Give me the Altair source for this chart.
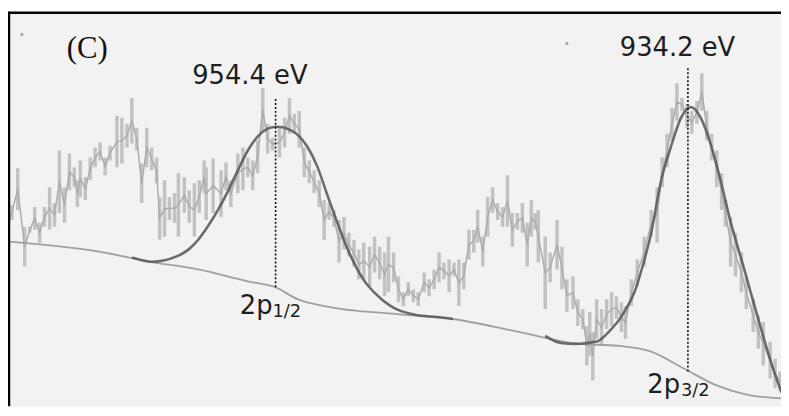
import altair as alt
import pandas as pd

# Raw spectrum: binding energy (eV) and the upper / lower ends of each noisy bar (a.u.)
energy = [
    967.46, 967.32, 967.03, 966.69, 966.44, 966.20, 965.96, 965.72, 965.47, 965.23,
    964.99, 964.74, 964.50, 964.26, 964.11, 963.97, 963.72, 963.48, 963.24, 963.00,
    962.75, 962.51, 962.17, 961.93, 961.68, 961.44, 961.20, 960.96, 960.71, 960.47,
    960.23, 960.08, 959.84, 959.60, 959.35, 959.16, 958.87, 958.63, 958.38, 958.14,
    957.90, 957.80, 957.46, 957.07, 956.83, 956.59, 956.25, 956.00, 955.76, 955.52,
    955.28, 955.03, 954.79, 954.55, 954.21, 953.96, 953.72, 953.48, 953.24, 952.99,
    952.75, 952.51, 952.26, 952.02, 951.78, 951.54, 951.29, 951.05, 950.81, 950.56,
    950.32, 950.08, 949.79, 949.55, 949.30, 949.06, 948.87, 948.62, 948.38, 948.14,
    947.90, 947.65, 947.41, 947.12, 946.88, 946.63, 946.39, 946.15, 945.90, 945.66,
    945.42, 945.18, 944.93, 944.69, 944.50, 944.25, 944.01, 943.77, 943.52, 943.28,
    943.04, 942.80, 942.55, 942.31, 942.07, 941.87, 941.68, 941.53, 941.19, 940.95,
    940.61, 940.37, 940.13, 939.83, 939.59, 939.35, 939.15, 939.01, 938.86, 938.67,
    938.43, 938.18, 937.94, 937.70, 937.46, 937.26, 936.97, 936.68, 936.34, 936.00,
    935.71, 935.46, 935.22, 934.98, 934.74, 934.49, 934.25, 934.01, 933.76, 933.52,
    933.28, 933.04, 932.79, 932.55, 932.36, 932.11, 931.87, 931.58, 931.34, 931.00,
    930.75, 930.51, 930.17, 929.93, 929.69,
]
hi = [
    203, 211, 248, 189, 189, 209, 193, 209, 229, 213,
    266, 229, 263, 249, 236, 256, 239, 259, 269, 274,
    259, 271, 301, 299, 293, 319, 289, 253, 289, 269,
    259, 219, 236, 219, 223, 243, 239, 226, 233, 236,
    256, 249, 258, 246, 254, 236, 263, 269, 259, 256,
    276, 329, 293, 279, 289, 299, 319, 303, 306, 269,
    256, 246, 236, 216, 213, 206, 196, 199, 183, 176,
    166, 173, 169, 179, 169, 163, 179, 163, 139, 123,
    133, 126, 123, 143, 136, 146, 163, 153, 156, 153,
    156, 153, 186, 186, 206, 179, 219, 229, 213, 209,
    241, 203, 203, 213, 193, 216, 203, 206, 179, 163,
    196, 169, 136, 139, 116, 106, 89, 103, 83, 116,
    106, 116, 123, 119, 113, 109, 136, 156, 179, 206,
    229, 259, 283, 309, 334, 319, 313, 306, 316, 344,
    306, 283, 266, 243, 216, 199, 183, 163, 139, 116,
    99, 93, 73, 56, 43,
]
lo = [
    194, 196, 206, 149, 183, 186, 173, 189, 186, 189,
    203, 193, 226, 229, 209, 219, 216, 236, 249, 256,
    241, 256, 249, 253, 269, 273, 266, 213, 249, 246,
    233, 176, 179, 196, 193, 179, 203, 193, 179, 203,
    223, 196, 203, 199, 226, 209, 223, 226, 239, 226,
    243, 286, 263, 266, 259, 269, 283, 283, 269, 239,
    233, 223, 209, 176, 196, 189, 153, 166, 159, 149,
    136, 136, 129, 143, 136, 119, 123, 133, 113, 109,
    119, 113, 109, 123, 119, 126, 133, 136, 123, 139,
    109, 126, 156, 163, 173, 149, 179, 203, 196, 189,
    189, 169, 186, 183, 149, 179, 186, 153, 106, 133,
    146, 126, 103, 106, 89, 86, 49, 59, 34, 76,
    69, 86, 89, 96, 83, 76, 109, 129, 149, 179,
    173, 229, 249, 276, 296, 306, 289, 283, 293, 306,
    276, 256, 229, 206, 189, 149, 139, 123, 106, 83,
    66, 49, 36, 26, 23,
]

# Shirley-type background
bg_e = [967.46, 963.04, 960.62, 958.19, 955.76, 954.40, 953.33, 951.73, 948.48,
        945.71, 942.50, 939.59, 937.65, 936.00, 934.40, 932.79, 931.14, 929.64]
bg_i = [174, 164, 154, 146, 134, 128, 116, 108, 101, 96, 83, 71, 69, 63, 46, 29, 19, 16]

# Fitted 2p1/2 envelope
fit1_e = [961.44, 960.62, 959.89, 959.16, 958.67, 958.19, 957.70, 957.22, 956.73,
          956.25, 955.76, 955.28, 954.79, 954.30, 953.82, 953.33, 952.85, 952.36,
          951.88, 951.39, 950.90, 950.42, 949.93, 949.21, 948.48, 947.51, 946.54, 945.71]
fit1_i = [158, 154, 155, 160, 166, 176, 190, 206, 225, 246, 266, 280, 288, 290,
          288, 282, 270, 250, 222, 194, 168, 147, 131, 116, 106, 100, 98, 96]

# Fitted 2p3/2 envelope
fit2_e = [941.19, 940.47, 939.49, 938.77, 938.43, 937.65, 937.24, 936.82, 936.41,
          936.00, 935.51, 935.03, 934.54, 934.06, 933.57, 933.08, 932.60, 932.11,
          931.48, 930.66, 930.03, 929.59]
fit2_i = [79, 72, 71, 73, 76, 93, 106, 123, 150, 183, 236, 270, 299, 310, 299,
          272, 236, 194, 149, 89, 46, 21]

# Peak markers
peak_e = [954.4, 934.2]
peak_top = [319, 349]
peak_bottom = [128, 43]
peak_labels = ["954.4 eV", "934.2 eV"]
peak_label_e = [955.66, 934.71]
peak_label_i = [333, 361]

orbital_main = ["2p", "2p"]
orbital_main_e = [956.15, 936.19]
orbital_main_i = [101, 21]
orbital_sub = ["1/2", "3/2"]
orbital_sub_e = [954.55, 934.54]
orbital_sub_i = [98, 18]

panel_label = ["(C)"]
panel_e = [963.63]
panel_i = [359]

speck_e = [966.83, 940.13]
speck_i = [383, 374]

W, H = 779, 397
xs = alt.Scale(domain=[967.46, 929.64], nice=False, zero=False)
ys = alt.Scale(domain=[405 - H, 405], nice=False, zero=False)


def X(f="E"):
    return alt.X(f"{f}:Q", scale=xs, axis=None)


def Y(f):
    return alt.Y(f"{f}:Q", scale=ys, axis=None)


spec = pd.DataFrame({"E": energy, "hi": hi, "lo": lo})
bg = pd.DataFrame({"E": bg_e, "I": bg_i})
fit1 = pd.DataFrame({"E": fit1_e, "I": fit1_i})
fit2 = pd.DataFrame({"E": fit2_e, "I": fit2_i})
peaks = pd.DataFrame({"E": peak_e, "top": peak_top, "bot": peak_bottom})
plab = pd.DataFrame({"E": peak_label_e, "I": peak_label_i, "t": peak_labels})
omain = pd.DataFrame({"E": orbital_main_e, "I": orbital_main_i, "t": orbital_main})
osub = pd.DataFrame({"E": orbital_sub_e, "I": orbital_sub_i, "t": orbital_sub})
panel = pd.DataFrame({"E": panel_e, "I": panel_i, "t": panel_label})
specks = pd.DataFrame({"E": speck_e, "I": speck_i})
one = pd.DataFrame({"k": [0]})

bars = alt.Chart(spec).mark_rule(color="#c2c2c2", strokeWidth=3.5, clip=True).encode(
    x=X(), y=Y("lo"), y2="hi:Q")
mid = alt.Chart(spec).transform_calculate(mid="(datum.hi + datum.lo) / 2").mark_line(
    color="#acacac", strokeWidth=1.5, clip=True).encode(x=X(), y=Y("mid"))
bgl = alt.Chart(bg).mark_line(color="#a0a0a0", strokeWidth=1.8, interpolate="monotone",
                              clip=True).encode(x=X(), y=Y("I"))
f1 = alt.Chart(fit1).mark_line(color="#5c5c5c", strokeWidth=2.6, interpolate="cardinal",
                               opacity=0.9, clip=True).encode(x=X(), y=Y("I"))
f2 = alt.Chart(fit2).mark_line(color="#5c5c5c", strokeWidth=2.6, interpolate="cardinal",
                               opacity=0.9, clip=True).encode(x=X(), y=Y("I"))
dots = alt.Chart(peaks).mark_rule(color="#111111", strokeWidth=1.6, strokeDash=[2, 2]).encode(
    x=X(), y=Y("bot"), y2="top:Q")
t_peak = alt.Chart(plab).mark_text(font="DejaVu Sans", fontSize=26, color="#1e1e1e",
                                   align="center", baseline="alphabetic").encode(
    x=X(), y=Y("I"), text="t:N")
t_main = alt.Chart(omain).mark_text(font="DejaVu Sans", fontSize=26, color="#1e1e1e",
                                    align="left", baseline="alphabetic").encode(
    x=X(), y=Y("I"), text="t:N")
t_sub = alt.Chart(osub).mark_text(font="DejaVu Sans", fontSize=18, color="#1e1e1e",
                                  align="left", baseline="alphabetic").encode(
    x=X(), y=Y("I"), text="t:N")
t_panel = alt.Chart(panel).mark_text(font="Liberation Serif", fontSize=31, color="#111111",
                                     align="center", baseline="alphabetic").encode(
    x=X(), y=Y("I"), text="t:N")
sp = alt.Chart(specks).mark_square(color="#8a8a8a", size=7, opacity=0.8).encode(
    x=X(), y=Y("I"))
left_border = alt.Chart(one).mark_rule(color="black", strokeWidth=2.5).encode(
    x=alt.value(0), y=alt.value(-1), y2=alt.value(H))
top_border = alt.Chart(one).mark_rule(color="black", strokeWidth=2.5).encode(
    x=alt.value(-1), x2=alt.value(W), y=alt.value(0))

chart = alt.layer(
    bars, mid, bgl, f1, f2, dots, t_peak, t_main, t_sub, t_panel, sp,
    left_border, top_border,
).properties(
    width=W, height=H,
    padding={"left": 1, "top": 3, "right": 0, "bottom": 0},
    autosize=alt.AutoSizeParams(type="none"),
    background="white",
).configure_view(stroke="transparent", fill="#f2f2f2")

chart.save("out.html", embed_options={"renderer": "svg", "actions": False})
